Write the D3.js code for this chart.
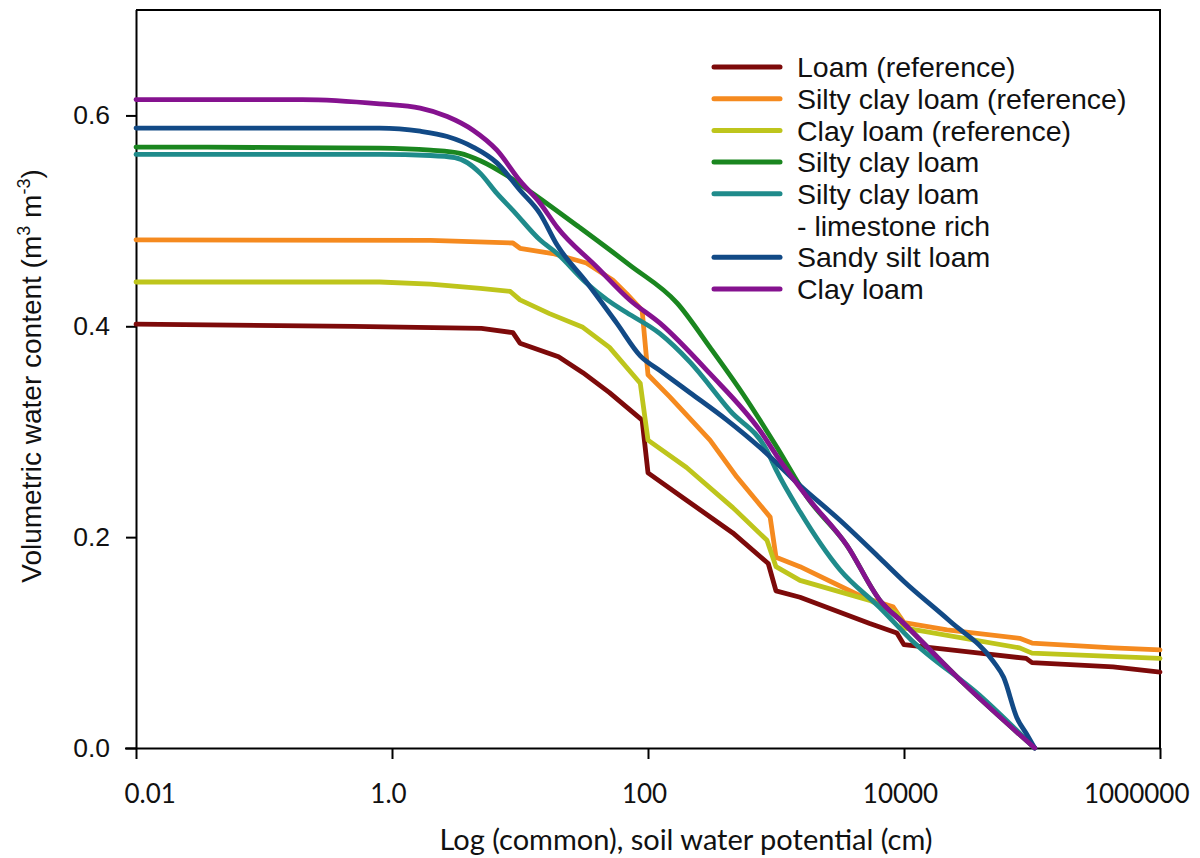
<!DOCTYPE html>
<html>
<head>
<meta charset="utf-8">
<script src="https://cdn.jsdelivr.net/npm/d3@7/dist/d3.min.js"></script>
<style>
  html, body { margin: 0; padding: 0; background: #fff; }
  svg { display: block; }
</style>
</head>
<body>
<svg id="chart" width="1200" height="858"></svg>
<script>
// Soil water retention curves: water content vs soil water potential (cm)
// Each series: [potential (cm), volumetric water content (m3 m-3)]
const loamRef = [
  [0.01, 0.402], [0.5, 0.400], [5, 0.398], [8.8, 0.394], [10, 0.384],
  [20, 0.371], [31, 0.356], [50, 0.337], [90, 0.311], [100, 0.261],
  [200, 0.235], [460, 0.204], [870, 0.175], [1000, 0.149], [1540, 0.143],
  [5400, 0.118], [8800, 0.109], [10000, 0.098], [39000, 0.090],
  [90000, 0.085], [100000, 0.081], [430000, 0.077], [1000000, 0.072]
];
const siltyClayLoamRef = [
  [0.01, 0.482], [2, 0.4815], [8.8, 0.479], [10, 0.474], [18, 0.469],
  [33, 0.460], [53, 0.444], [68, 0.431], [90, 0.415], [100, 0.354],
  [148, 0.333], [305, 0.292], [495, 0.257], [900, 0.219], [1000, 0.181],
  [1540, 0.172], [4800, 0.143], [8200, 0.134], [10000, 0.119],
  [21700, 0.112], [80000, 0.104], [100000, 0.0995], [430000, 0.095],
  [1000000, 0.093]
];
const clayLoamRef = [
  [0.01, 0.442], [0.8, 0.442], [2, 0.440], [4.9, 0.436], [8.4, 0.433],
  [10, 0.425], [17, 0.412], [31, 0.399], [50, 0.380], [87, 0.346],
  [100, 0.292], [200, 0.266], [460, 0.228], [850, 0.197], [1000, 0.172],
  [1540, 0.159], [5400, 0.140], [8800, 0.128], [10000, 0.114],
  [80000, 0.095], [100000, 0.090], [1000000, 0.085]
];
const siltyClayLoam = [
  [0.01, 0.570], [0.8, 0.569], [2, 0.567], [3.4, 0.564], [4.9, 0.557],
  [7.9, 0.543], [12.6, 0.526], [29, 0.494], [72, 0.458], [169, 0.422],
  [305, 0.380], [550, 0.336], [1020, 0.285], [1750, 0.238], [3590, 0.192],
  [6490, 0.140], [9800, 0.119], [28800, 0.062], [105000, 0.0]
];
const siltyClayLoamLimestone = [
  [0.01, 0.563], [0.8, 0.563], [2, 0.562], [3.1, 0.560], [3.9, 0.555],
  [4.9, 0.545], [6.6, 0.526], [8.8, 0.510], [14.3, 0.482], [19.5, 0.469],
  [33, 0.441], [48, 0.425], [68, 0.413], [124, 0.393], [213, 0.366],
  [437, 0.320], [850, 0.282], [1000, 0.264], [1540, 0.224], [3160, 0.169],
  [6490, 0.133], [11500, 0.102], [39000, 0.050], [105000, 0.0]
];
const sandySiltLoam = [
  [0.01, 0.588], [0.8, 0.588], [1.66, 0.585], [2.7, 0.580], [4.3, 0.570],
  [6.6, 0.555], [10, 0.529], [14.3, 0.507], [19.5, 0.477], [33, 0.442],
  [57, 0.403], [87, 0.372], [124, 0.358], [213, 0.337], [414, 0.311],
  [750, 0.285], [1540, 0.249], [3160, 0.216], [6490, 0.180], [10000, 0.158],
  [23000, 0.120], [50000, 0.082], [60000, 0.067], [76000, 0.029],
  [91000, 0.013], [105000, 0.0]
];
const clayLoam = [
  [0.01, 0.615], [0.2, 0.615], [0.8, 0.611], [1.66, 0.607], [2.7, 0.599],
  [4.3, 0.586], [6.6, 0.567], [10, 0.538], [14.3, 0.517], [19.5, 0.494],
  [40, 0.456], [72, 0.425], [124, 0.403], [305, 0.355], [750, 0.301],
  [1070, 0.273], [1750, 0.238], [3590, 0.192], [6490, 0.140], [9800, 0.119],
  [28800, 0.062], [105000, 0.0]
];

const seriesNames = [
  "Loam (reference)",
  "Silty clay loam (reference)",
  "Clay loam (reference)",
  "Silty clay loam",
  "Silty clay loam\n- limestone rich",
  "Sandy silt loam",
  "Clay loam"
];
const seriesValues = [
  loamRef, siltyClayLoamRef, clayLoamRef, siltyClayLoam,
  siltyClayLoamLimestone, sandySiltLoam, clayLoam
];
// reference curves are tabulated (stepped); measured curves are smooth fits
const seriesIsReference = [true, true, true, false, false, false, false];

const potentialTicks = [0.01, 1, 100, 10000, 1000000];
const potentialTickLabels = ["0.01", "1.0", "100", "10000", "1000000"];
const thetaTicks = [0, 0.2, 0.4, 0.6];
const thetaTickLabels = ["0.0", "0.2", "0.4", "0.6"];

const xTitle = "Log (common), soil water potential (cm)";

// styling
const colors = ["#7d0a0a", "#f58a1f", "#bec51c", "#1a861f", "#1f8b8b", "#124a86", "#85128f"];
const arial = "'Liberation Sans', Arial, sans-serif";
const calibriLike = "Lato, 'Open Sans', sans-serif";

const svg = d3.select("#chart");
const plotL = 136, plotR = 1160, plotT = 10, plotB = 748;

const x = d3.scaleLog().domain([0.01, 1000000]).range([plotL, plotR]);
const y = d3.scaleLinear().domain([0, 0.7]).range([plotB, plotT]);

// frame (top and right edges)
svg.append("path")
  .attr("d", `M${plotL},${plotT}H${plotR}V${plotB}`)
  .attr("fill", "none").attr("stroke", "#000").attr("stroke-width", 2);

// x axis
const xAxis = svg.append("g")
  .attr("transform", `translate(0,${plotB})`)
  .call(d3.axisBottom(x)
    .tickValues(potentialTicks)
    .tickFormat((d, i) => potentialTickLabels[i])
    .tickSizeOuter(0).tickSizeInner(11).tickPadding(0));
xAxis.select(".domain").attr("stroke-width", 2).attr("d", `M${plotL - 11},0.5H${plotR}`);
xAxis.selectAll(".tick line").attr("stroke-width", 2);
xAxis.selectAll(".tick text")
  .attr("font-family", calibriLike).attr("font-size", 26).attr("fill", "#111")
  .attr("y", 55).attr("dy", 0)
  .each(function (d, i, nodes) {
    const t = d3.select(this);
    if (i === 0) t.attr("text-anchor", "start").attr("x", -12);
    else if (i === nodes.length - 1) t.attr("text-anchor", "end").attr("x", 29);
    else t.attr("text-anchor", "middle").attr("x", -4);
  });

// y axis
const yAxis = svg.append("g")
  .attr("transform", `translate(${plotL},0)`)
  .call(d3.axisLeft(y)
    .tickValues(thetaTicks)
    .tickFormat((d, i) => thetaTickLabels[i])
    .tickSizeOuter(0).tickSizeInner(10).tickPadding(16));
yAxis.select(".domain").attr("stroke-width", 2).attr("d", `M0.5,${plotT}V${plotB}`);
yAxis.selectAll(".tick line").attr("stroke-width", 2);
yAxis.selectAll(".tick text")
  .attr("font-family", arial).attr("font-size", 26.5).attr("fill", "#111");

// axis titles
svg.append("text")
  .attr("x", 686).attr("y", 850)
  .attr("text-anchor", "middle")
  .attr("font-family", calibriLike).attr("font-size", 29).attr("fill", "#111")
  .text(xTitle);

const yt = svg.append("text")
  .attr("transform", "translate(41,376) rotate(-90)")
  .attr("text-anchor", "middle")
  .attr("font-family", arial).attr("font-size", 28).attr("fill", "#111");
yt.append("tspan").text("Volumetric water content (m");
yt.append("tspan").attr("dy", -11).attr("font-size", 18).text("3");
yt.append("tspan").attr("dy", 11).text(" m");
yt.append("tspan").attr("dy", -11).attr("font-size", 18).text("-3");
yt.append("tspan").attr("dy", 11).text(")");

// curves
const stepLine = d3.line()
  .x(d => x(d[0]))
  .y(d => y(d[1]));
const smoothLine = d3.line()
  .curve(d3.curveMonotoneX)
  .x(d => x(d[0]))
  .y(d => y(d[1]));

svg.append("g").selectAll("path")
  .data(seriesValues)
  .join("path")
  .attr("d", (d, i) => (seriesIsReference[i] ? stepLine : smoothLine)(d))
  .attr("fill", "none")
  .attr("stroke", (d, i) => colors[i])
  .attr("stroke-width", 4.8)
  .attr("stroke-linejoin", "round")
  .attr("stroke-linecap", "round");

// legend
const legend = svg.append("g");
const rowH = 31.7, legTop = 67;
let row = 0;
seriesNames.forEach((name, i) => {
  const lines = name.split("\n");
  const yy = legTop + row * rowH;
  legend.append("line")
    .attr("x1", 714).attr("x2", 780).attr("y1", yy).attr("y2", yy)
    .attr("stroke", colors[i]).attr("stroke-width", 5).attr("stroke-linecap", "round");
  lines.forEach((txt, k) => {
    legend.append("text")
      .attr("x", 797).attr("y", yy + k * rowH).attr("dy", "0.36em")
      .attr("font-family", arial).attr("font-size", 28.5).attr("fill", "#111")
      .text(txt);
  });
  row += lines.length;
});
</script>
</body>
</html>
